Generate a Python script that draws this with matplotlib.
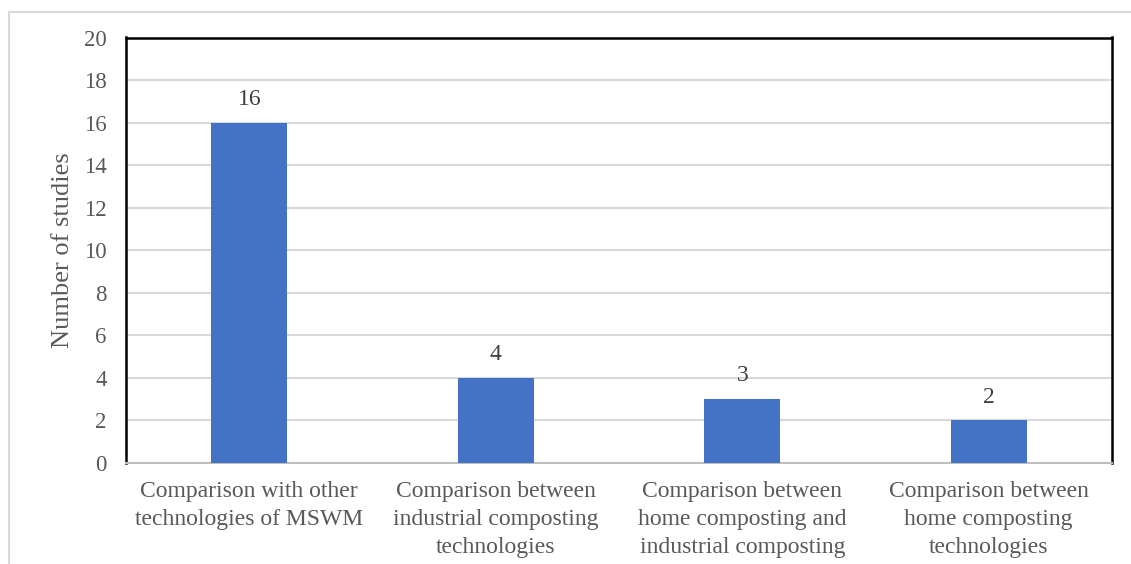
import numpy as np
import matplotlib.pyplot as plt
from matplotlib.patches import Rectangle

categories = ["Comparison with other\ntechnologies of MSWM",
              "Comparison between\nindustrial composting\ntechnologies",
              "Comparison between\nhome composting and\nindustrial composting",
              "Comparison between\nhome composting\ntechnologies"]
studies = [16, 4, 3, 2]
yticks = [0, 2, 4, 6, 8, 10, 12, 14, 16, 18, 20]

plt.rcParams['font.family'] = ['Liberation Serif', 'DejaVu Serif']
txt = '#595959'

fig = plt.figure(figsize=(11.31, 5.64), dpi=100)
fig.patches.append(Rectangle((9/1131, -0.01), 1.02, 1 - 12/564 + 0.01, transform=fig.transFigure,
                             fill=False, edgecolor='#d9d9d9', linewidth=1.5))
ax = fig.add_axes([126/1131, 1 - 463/564, (1112 - 126)/1131, (463 - 37.5)/564])

x = np.arange(len(studies))
bars = ax.bar(x, studies, width=0.31, color='#4472c4', zorder=3)
for b, v in zip(bars, studies):
    ax.text(b.get_x() + b.get_width()/2, v + 1.1, str(v), ha='center', va='center',
            fontsize=17, color='#404040')

ax.set_xlim(-0.5, len(studies) - 0.5)
ax.set_ylim(0, 20)
ax.set_yticks(yticks)
ax.set_xticks(x)
ax.set_xticklabels(categories, fontsize=17, color=txt, linespacing=1.44)
ax.tick_params(axis='y', labelsize=16.5, labelcolor=txt, length=0, pad=14)
ax.tick_params(axis='x', length=0, pad=13)
ax.grid(axis='y', color='#d9d9d9', linewidth=1.5, zorder=0)
ax.set_ylabel('Number of studies', fontsize=19, color=txt, labelpad=7)

for s in ['left', 'top', 'right']:
    ax.spines[s].set_color('black')
    ax.spines[s].set_linewidth(1.8)
ax.spines['bottom'].set_color('#bfbfbf')
ax.spines['bottom'].set_linewidth(1.5)

fig.savefig('out.png', dpi=100)
